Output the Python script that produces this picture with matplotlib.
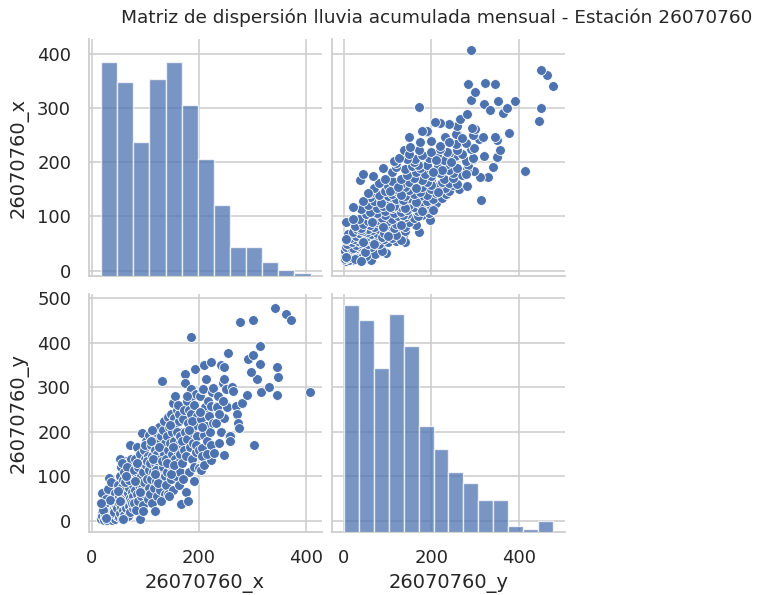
import numpy as np
import matplotlib
matplotlib.use('Agg')
import matplotlib.pyplot as plt


TITLE = 'Matriz de dispersión lluvia acumulada mensual - Estación 26070760'
VAR_X = '26070760_x'
VAR_Y = '26070760_y'

# monthly accumulated rainfall pairs (x, y)
rain_x = [
    18, 19, 20, 21, 22, 22, 23, 24, 25, 25, 26, 27, 28, 28, 29, 30, 30, 31, 32, 33,
    33, 34, 35, 35, 36, 37, 37, 38, 39, 40, 40, 41, 42, 42, 43, 44, 44, 45, 46, 46,
    47, 47, 20, 24, 31, 36, 27, 39, 43, 45, 21, 26, 34, 41, 18,
    48, 49, 50, 50, 51, 52, 52, 53, 54, 55, 55, 56, 57, 58, 58, 59, 60, 61, 61, 62,
    63, 64, 64, 65, 66, 67, 67, 68, 69, 70, 70, 71, 72, 72, 73, 74, 74, 75, 76, 76,
    77, 77, 53, 57, 62, 66, 70, 49, 59, 52, 64, 75,
    78, 79, 80, 81, 82, 83, 84, 85, 86, 87, 88, 89, 90, 91, 92, 93, 93, 94, 95, 96,
    97, 98, 99, 100, 101, 102, 103, 104, 105, 106, 107, 107, 84, 96, 100, 90, 81, 103,
    108, 109, 110, 111, 112, 113, 114, 115, 116, 117, 117, 118, 119, 120, 121, 122, 123, 124, 125, 126,
    127, 128, 129, 130, 130, 131, 132, 133, 134, 135, 135, 136, 137, 137, 112, 120, 126, 129, 133, 115,
    124, 110, 118, 131,
    138, 139, 140, 141, 142, 142, 143, 144, 145, 146, 147, 148, 149, 150, 151, 151, 152, 153, 154, 155,
    156, 156, 157, 158, 159, 160, 161, 162, 163, 164, 165, 165, 166, 167, 167, 140, 146, 152, 158, 162,
    148, 160, 144, 154, 164,
    168, 169, 170, 171, 172, 173, 173, 174, 175, 176, 177, 178, 179, 180, 181, 182, 183, 184, 184, 185,
    186, 187, 188, 189, 190, 191, 192, 193, 194, 195, 196, 197, 199, 178, 186, 170, 190, 195, 182,
    200, 202, 203, 204, 206, 206, 206, 208, 209, 209, 209, 210, 211, 213, 214, 216, 218, 219, 220, 222,
    222, 222, 223, 224, 226, 205, 215, 212, 225, 201,
    228, 231, 234, 234, 236, 237, 240, 241, 244, 247, 247, 247, 247, 250, 252, 252, 254, 256, 238, 245,
    258, 258, 262, 264, 268, 270, 273, 275, 276, 280,
    289, 292, 300, 300, 303, 308, 313, 313, 315, 296,
    341, 345, 347, 345, 330, 361, 371, 407,
]
rain_y = [
    5, 20, 12, 35, 2, 45, 28, 8, 15, 55, 38, 22, 3, 60, 30, 10, 48, 18, 40, 97,
    6, 26, 65, 14, 34, 50, 2, 22, 75, 9, 42, 30, 58, 16, 84, 36, 4, 24, 52, 70,
    12, 44, 62, 40, 72, 88, 50, 18, 62, 32, 25, 6, 48, 20, 40,
    28, 80, 8, 55, 40, 100, 18, 66, 32, 120, 48, 5, 76, 24, 92, 60, 38, 110, 14, 70,
    50, 135, 28, 85, 42, 62, 10, 98, 34, 75, 128, 52, 171, 20, 88, 45, 140, 64, 30, 105,
    55, 80, 140, 130, 88, 120, 92, 68, 4, 45, 100, 40,
    40, 115, 70, 140, 25, 95, 60, 165, 45, 120, 80, 4, 150, 100, 55, 198, 130, 75, 35, 110,
    160, 88, 140, 60, 125, 180, 95, 50, 145, 115, 194, 75, 130, 22, 170, 65, 90, 135,
    130, 60, 170, 95, 145, 40, 185, 110, 75, 22, 160, 130, 200, 90, 150, 55, 175, 120, 210, 100,
    140, 70, 190, 314, 160, 115, 205, 85, 150, 225, 130, 60, 175, 100, 205, 115, 165, 45, 120, 140,
    85, 180, 105, 135,
    140, 80, 190, 110, 233, 160, 60, 210, 125, 175, 95, 240, 150, 200, 264, 120, 70, 232, 180, 140,
    281, 215, 100, 160, 250, 130, 195, 80, 225, 150, 175, 110, 255, 38, 200, 130, 215, 165, 200, 240,
    105, 260, 55, 125, 190,
    180, 130, 230, 160, 250, 330, 311, 200, 66, 145, 270, 185, 45, 220, 250, 110, 165, 414, 297, 240,
    200, 140, 281, 175, 260, 120, 341, 215, 155, 285, 190, 235, 119, 280, 225, 95, 90, 170, 205,
    160, 280, 115, 230, 296, 164, 145, 296, 350, 194, 126, 350, 255, 213, 180, 270, 240, 236, 200, 357,
    258, 171, 137, 290, 298, 210, 150, 320, 220, 245,
    152, 220, 258, 256, 280, 175, 200, 350, 309, 345, 318, 232, 149, 296, 258, 256, 378, 190, 240, 270,
    190, 179, 300, 293, 258, 240, 220, 209, 447, 265,
    282, 364, 451, 373, 171, 320, 392, 353, 290, 335,
    478, 345, 324, 284, 300, 465, 452, 290,
]

# diagonal histograms: bin edges and counts
hist_x_edges = [17.6, 47.6, 77.6, 107.6, 137.6, 167.6, 197.6, 227.6, 257.6, 287.6, 317.6, 347.6, 377.6, 407.6]
hist_x_counts = [75, 68, 47, 69, 75, 60, 41, 25, 10, 10, 5, 2, 1]
hist_y_edges = [0, 34.2, 68.4, 102.6, 136.8, 171.0, 205.2, 239.4, 273.6, 307.8, 342.0, 376.2, 410.4, 444.6, 478.8]
hist_y_counts = [79, 74, 57, 76, 65, 37, 29, 21, 17, 11, 11, 2, 1, 4]

ticks_x = [0, 200, 400]
ticks_yrow_top = [0, 100, 200, 300, 400]
ticks_yrow_bottom = [0, 100, 200, 300, 400, 500]

BLUE = '#4c72b0'
GRID = '#cccccc'
TEXT = '#262626'

W, H = 779, 595


def px_axes(fig, left, top, right, bottom, **kw):
    return fig.add_axes([left / W, 1 - bottom / H, (right - left) / W, (bottom - top) / H], **kw)


def style_axes(ax):
    for side in ['top', 'right']:
        ax.spines[side].set_visible(False)
    for side in ['left', 'bottom']:
        ax.spines[side].set_color(GRID)
        ax.spines[side].set_linewidth(1.25)
    ax.grid(True, color=GRID, linewidth=1.1)
    ax.set_axisbelow(True)
    ax.tick_params(axis='both', length=0, pad=12.5, labelsize=13, labelcolor=TEXT)


def draw_hist(ax, edges, counts, top):
    edges = np.array(edges)
    tw = ax.twinx()
    tw.bar(edges[:-1], counts, width=np.diff(edges), align='edge',
           color=BLUE, alpha=0.75, edgecolor='white', linewidth=1.0)
    tw.set_ylim(0, top)
    tw.axis('off')


def main():
    plt.rcParams['font.family'] = 'DejaVu Sans'
    fig = plt.figure(figsize=(W / 100, H / 100), dpi=100)

    ax_tl = px_axes(fig, 88.5, 39, 321.5, 276)
    ax_tr = px_axes(fig, 332, 39, 565, 276, sharey=ax_tl)
    ax_bl = px_axes(fig, 88.5, 294, 321.5, 532, sharex=ax_tl)
    ax_br = px_axes(fig, 332, 294, 565, 532, sharex=ax_tr, sharey=ax_bl)

    for ax in [ax_tl, ax_tr, ax_bl, ax_br]:
        style_axes(ax)

    ax_bl.scatter(rain_x, rain_y, s=50, color=BLUE, edgecolor='white', linewidth=0.6, zorder=3)
    ax_tr.scatter(rain_y, rain_x, s=50, color=BLUE, edgecolor='white', linewidth=0.6, zorder=3)

    hist_top = max(max(hist_x_counts), max(hist_y_counts)) * 1.05
    draw_hist(ax_tl, hist_x_edges, hist_x_counts, hist_top)
    draw_hist(ax_br, hist_y_edges, hist_y_counts, hist_top)

    ax_tl.set_xlim(-6, 428)
    ax_tl.set_ylim(-10, 428)
    ax_tr.set_xlim(-27, 506)
    ax_bl.set_ylim(-25, 510)

    ax_bl.set_xticks(ticks_x)
    ax_br.set_xticks(ticks_x)
    ax_tl.set_yticks(ticks_yrow_top)
    ax_bl.set_yticks(ticks_yrow_bottom)

    ax_tl.tick_params(labelbottom=False)
    ax_tr.tick_params(labelbottom=False, labelleft=False)
    ax_br.tick_params(labelleft=False)

    ax_bl.set_xlabel(VAR_X, fontsize=14, color=TEXT, labelpad=5)
    ax_br.set_xlabel(VAR_Y, fontsize=14, color=TEXT, labelpad=5)
    ax_tl.set_ylabel(VAR_X, fontsize=14, color=TEXT, labelpad=6)
    ax_bl.set_ylabel(VAR_Y, fontsize=14, color=TEXT, labelpad=6)

    fig.text(437 / W, 1 - 18 / H, TITLE, ha='center', va='center', fontsize=13.3, color=TEXT)

    fig.savefig('out.png', dpi=100)
    plt.close(fig)


if __name__ == '__main__':
    main()
